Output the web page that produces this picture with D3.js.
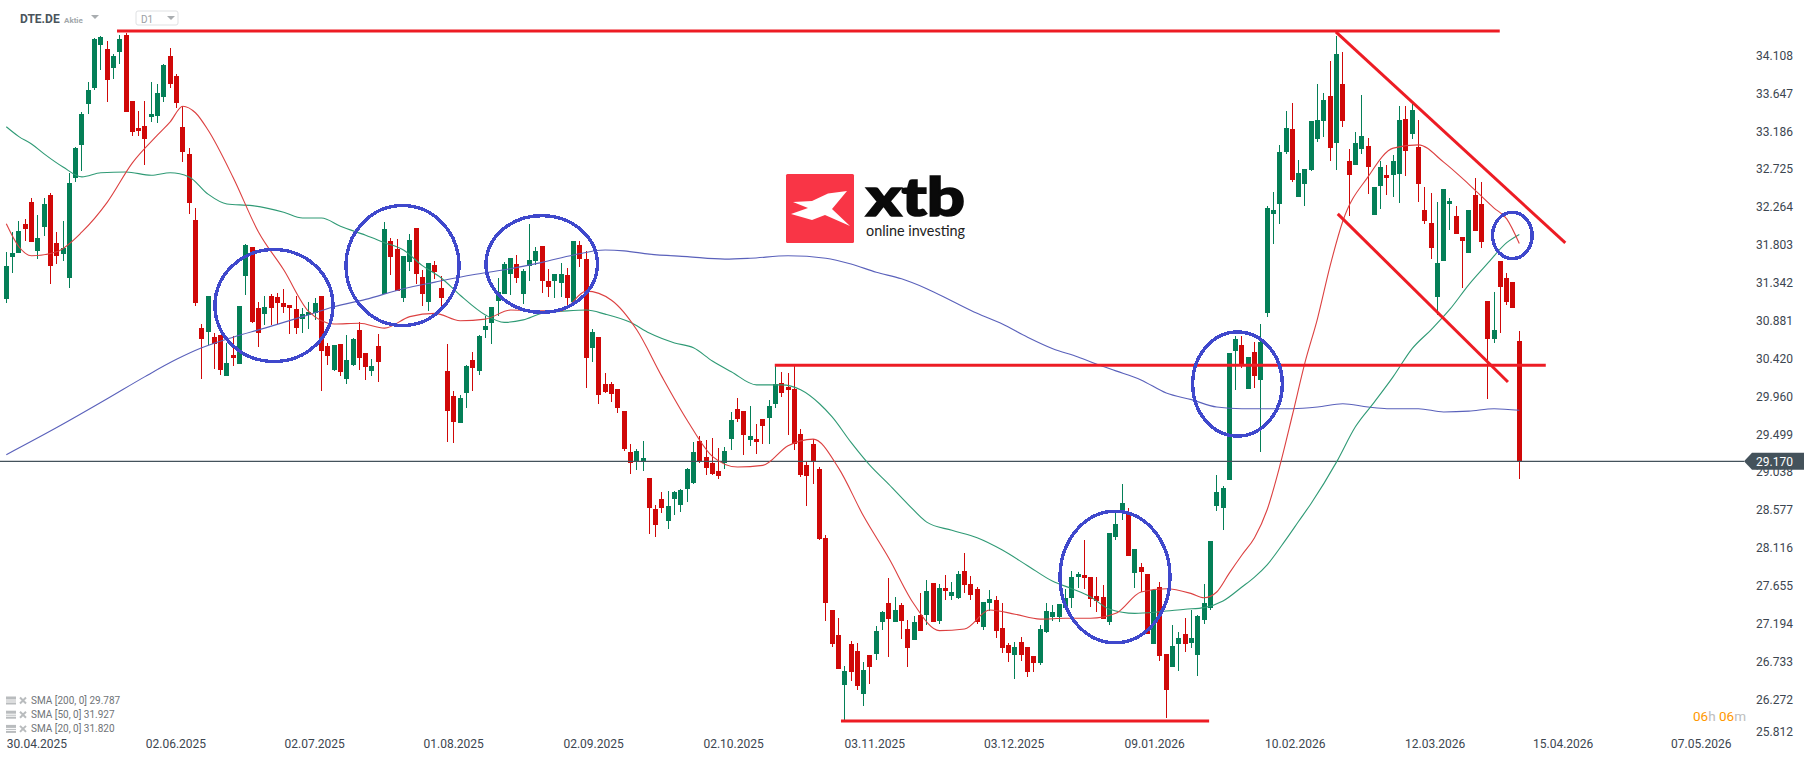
<!DOCTYPE html>
<html>
<head>
<meta charset="utf-8">
<title>DTE.DE</title>
<script src="https://cdn.jsdelivr.net/npm/d3@7"></script>
<style>
  html, body { margin: 0; background: #fff; }
  svg { display: block; font-family: Roboto, sans-serif; }
</style>
</head>
<body>
<div id="chart"></div>
<script>
const opens = [
  31.14,31.66,31.70,32.06,32.32,31.73,32.02,32.41,31.83,31.69,
  31.40,32.62,33.02,33.52,33.71,34.23,34.19,33.95,34.15,34.36,
  33.55,33.22,33.25,33.36,33.37,33.60,34.10,33.86,33.24,32.91,
  32.10,30.79,30.74,30.68,30.71,30.21,30.46,30.35,31.42,31.78,
  31.03,30.96,31.18,31.17,31.10,31.07,31.02,30.90,30.95,30.97,
  31.18,30.57,30.28,30.60,30.17,30.34,30.77,30.49,30.27,30.57,
  31.21,31.85,31.75,31.16,31.59,32.01,31.41,31.11,31.56,31.28,
  30.27,29.96,29.64,30.00,30.40,30.27,30.77,30.85,31.12,31.20,
  31.45,31.57,31.20,31.55,31.61,31.79,31.36,31.36,31.34,31.44,
  31.11,31.80,31.63,30.55,30.68,30.11,30.11,30.05,29.78,29.28,
  29.17,29.16,28.97,28.59,28.71,28.44,28.71,28.64,28.83,28.91,
  29.42,29.22,29.15,29.05,29.15,29.44,29.81,29.78,29.43,29.44,
  29.68,29.70,29.87,30.12,30.07,30.05,29.50,29.13,29.38,29.08,
  28.24,27.36,27.06,26.45,26.95,26.86,26.34,26.81,26.83,27.21,
  27.45,27.21,27.42,27.13,27.00,27.30,27.30,27.69,27.23,27.63,
  27.53,27.51,27.84,27.68,27.62,27.15,27.45,27.48,27.14,26.94,
  26.81,26.97,26.91,26.80,26.71,27.09,27.28,27.28,27.39,27.51,
  27.76,27.79,27.76,27.53,27.52,27.21,28.25,28.57,28.54,27.81,
  27.88,27.80,26.95,27.64,26.83,26.67,26.95,27.07,26.96,26.81,
  27.24,27.39,28.63,28.60,28.94,30.51,30.59,30.05,30.50,30.16,
  30.97,32.18,32.30,32.93,33.21,32.39,32.54,32.71,33.09,33.31,
  33.61,33.04,33.76,32.82,32.78,32.97,33.01,32.17,32.52,32.65,
  32.65,32.67,33.33,33.15,32.99,32.23,32.07,31.17,31.61,32.30,
  32.15,31.90,31.70,32.41,32.30,31.12,30.66,31.61,31.40,31.35,
  30.63
];
const closes = [
  31.54,31.70,31.97,31.99,31.84,31.89,32.30,31.55,31.67,31.77,
  32.56,32.98,33.40,33.69,34.31,34.33,33.81,34.10,34.31,33.42,
  33.18,33.19,33.09,33.40,33.65,33.99,33.76,33.53,32.93,32.31,
  31.10,30.66,31.18,30.60,30.28,30.37,30.43,31.06,31.80,30.87,
  30.73,31.05,31.03,31.10,31.05,31.03,30.79,30.96,30.99,31.10,
  30.51,30.45,30.58,30.26,30.40,30.66,30.43,30.32,30.33,30.38,
  31.99,31.66,31.24,31.67,31.86,31.45,31.20,31.58,31.47,31.16,
  29.78,29.65,29.94,30.33,30.30,30.69,30.82,31.05,31.23,31.57,
  31.64,31.40,31.49,31.62,31.73,31.36,31.29,31.45,31.45,31.16,
  31.85,31.63,30.43,30.74,29.98,30.01,29.99,29.82,29.32,29.15,
  29.30,29.21,28.60,28.40,28.60,28.63,28.80,28.82,29.08,29.28,
  29.16,29.09,29.02,28.99,29.30,29.67,29.68,29.49,29.48,29.40,
  29.60,29.84,30.11,30.00,30.04,29.38,29.00,28.99,29.17,28.22,
  27.45,26.95,26.64,26.62,26.61,26.44,26.63,26.67,27.10,27.34,
  27.25,27.36,27.23,26.90,27.21,27.10,27.59,27.21,27.63,27.59,
  27.58,27.80,27.67,27.54,27.21,27.46,27.50,27.10,26.90,26.84,
  26.91,26.81,26.61,26.71,27.13,27.35,27.34,27.43,27.51,27.76,
  27.80,27.75,27.49,27.47,27.25,28.30,28.41,28.66,28.02,28.10,
  27.82,27.07,27.60,26.80,26.39,26.92,27.02,26.95,27.02,27.29,
  27.45,28.20,28.80,28.85,30.49,30.66,30.34,30.44,30.21,30.62,
  32.25,32.23,32.93,33.22,32.59,32.68,32.73,33.31,33.32,33.57,
  32.98,34.12,33.31,32.65,33.04,33.13,32.75,32.51,32.75,32.62,
  32.82,33.32,32.95,33.44,32.54,32.09,31.77,31.58,32.48,32.34,
  31.94,31.85,32.23,31.97,31.84,30.66,30.77,31.29,31.11,31.04,
  29.17
];
const highs = [
  31.72,31.96,32.09,32.12,32.37,32.17,32.37,32.44,31.96,32.09,
  32.68,32.99,33.42,33.78,34.32,34.34,34.28,34.12,34.36,34.38,
  33.55,33.43,33.55,33.78,33.76,34.00,34.20,33.88,33.49,32.98,
  32.25,30.84,31.18,30.73,30.71,30.61,30.70,31.06,31.81,31.78,
  31.11,31.18,31.21,31.22,31.27,31.07,31.18,31.03,31.11,31.16,
  31.18,30.61,30.58,30.60,30.71,30.67,30.87,30.49,30.41,30.72,
  32.08,31.89,31.87,31.67,31.93,32.01,31.50,31.58,31.61,31.42,
  30.60,30.02,29.98,30.34,30.50,30.71,30.94,31.05,31.40,31.59,
  31.64,31.68,31.51,32.06,31.78,31.79,31.51,31.45,31.58,31.52,
  31.85,31.85,31.73,30.78,30.68,30.24,30.13,30.05,29.78,29.38,
  29.32,29.42,28.97,28.64,28.80,28.81,28.81,28.83,29.09,29.40,
  29.48,29.43,29.45,29.33,29.34,29.77,29.94,29.78,29.84,29.62,
  29.68,29.92,30.34,30.26,30.24,30.34,29.56,29.16,29.44,29.10,
  28.27,27.36,27.26,26.68,26.98,26.96,26.73,26.81,27.17,27.35,
  27.75,27.52,27.45,27.24,27.29,27.57,27.72,27.69,27.68,27.79,
  27.70,27.84,28.05,27.77,27.64,27.46,27.60,27.53,27.45,26.96,
  26.97,27.03,26.91,26.80,27.18,27.45,27.42,27.43,27.62,27.84,
  27.82,28.21,27.76,27.76,27.66,28.30,28.54,28.89,28.60,28.10,
  27.93,27.80,27.60,27.70,26.83,27.18,27.09,27.26,27.36,27.30,
  27.68,28.20,29.00,28.87,30.49,30.69,30.69,30.44,30.62,30.84,
  32.28,32.45,33.02,33.43,33.53,32.84,32.73,33.31,33.76,33.65,
  34.04,34.34,34.15,32.97,33.18,33.63,33.10,32.51,32.82,32.78,
  32.90,33.49,33.49,33.52,33.32,32.51,32.43,32.33,32.48,32.37,
  32.28,31.90,32.23,32.62,32.57,31.12,31.23,31.61,31.46,31.35,
  30.76
];
const lows = [
  31.10,31.46,31.70,31.85,31.84,31.63,31.91,31.33,31.57,31.61,
  31.28,32.57,32.70,33.40,33.69,33.93,33.54,33.82,34.00,33.42,
  33.13,33.13,32.77,33.30,33.29,33.54,33.71,33.47,32.81,32.18,
  31.06,30.17,30.58,30.29,30.22,30.21,30.33,30.35,31.19,30.85,
  30.56,30.83,30.83,30.84,30.97,30.72,30.72,30.73,30.78,30.89,
  30.03,30.34,30.27,30.21,30.11,30.33,30.28,30.16,30.21,30.13,
  31.21,31.44,31.24,31.11,31.48,31.33,31.06,31.00,31.39,31.05,
  29.40,29.39,29.64,29.82,30.03,30.22,30.67,30.60,30.94,31.20,
  31.19,31.34,31.08,31.36,31.56,31.22,31.17,31.16,31.17,31.06,
  31.06,31.53,30.06,30.38,29.87,30.00,29.89,29.76,29.30,29.02,
  29.06,29.05,28.29,28.25,28.54,28.35,28.52,28.55,28.68,28.89,
  29.15,29.00,29.00,28.96,29.08,29.31,29.65,29.25,29.36,29.26,
  29.38,29.38,29.82,29.95,29.49,29.31,28.98,28.63,28.89,28.21,
  27.23,26.91,26.64,26.02,26.50,26.39,26.19,26.46,26.75,27.12,
  26.79,27.21,27.01,26.67,27.00,27.10,27.18,27.21,27.19,27.48,
  27.48,27.49,27.57,27.48,27.19,27.12,27.35,27.02,26.84,26.73,
  26.52,26.74,26.55,26.61,26.69,27.08,27.23,27.21,27.39,27.39,
  27.63,27.62,27.40,27.34,27.25,27.18,28.21,28.46,28.02,27.63,
  27.58,27.07,26.95,26.74,26.05,26.67,26.62,26.85,26.90,26.56,
  27.19,27.36,28.57,28.33,28.94,30.04,30.31,30.05,30.06,29.28,
  30.93,31.81,32.06,32.91,32.57,32.39,32.28,32.70,33.05,33.12,
  32.82,32.71,33.24,32.15,32.78,32.91,32.42,32.17,32.24,32.41,
  32.39,32.31,32.64,33.09,32.33,32.06,31.63,30.95,31.61,31.98,
  31.94,31.28,31.70,31.97,31.77,29.93,30.61,30.73,31.07,31.04,
  28.95
];

const sma20Bars = [0,2,4,8,12,16,20,24,26,28,30,32,36,40,44,48,52,56,60,64,68,72,76,80,84,88,92,96,100,104,108,112,116,120,124,128,132,136,140,144,148,152,156,160,164,168,172,176,180,184,188,190,192,194,196,198,200,202,204,206,208,210,212,216,220,224,228,232,236,238,240];
const sma20 = [32.06,31.78,31.67,31.72,31.96,32.32,32.80,33.14,33.30,33.49,33.41,33.20,32.62,31.96,31.50,30.99,30.84,30.85,30.79,30.93,30.97,30.88,30.90,31.01,31.00,31.00,31.24,31.13,30.77,30.20,29.67,29.23,29.10,29.12,29.36,29.44,29.09,28.50,27.99,27.43,27.11,27.13,27.36,27.31,27.25,27.26,27.26,27.32,27.58,27.62,27.56,27.51,27.58,27.81,28.03,28.24,28.58,29.11,29.73,30.37,30.91,31.55,32.09,32.63,32.98,33.02,32.81,32.54,32.25,32.12,31.82];
const sma50Bars = [0,2,4,6,9,12,15,19,23,26,29,32,35,39,44,47,50,53,57,60,63,66,69,72,76,79,82,85,89,92,95,99,102,106,109,112,115,119,123,126,129,131,134,137,140,143,146,150,154,158,162,166,169,172,175,179,183,187,190,193,196,198,200,203,205,207,211,214,217,220,223,226,229,232,235,238,240];
const sma50 = [33.24,33.12,33.03,32.91,32.75,32.63,32.68,32.69,32.65,32.68,32.63,32.42,32.30,32.28,32.20,32.13,32.13,32.03,31.92,31.83,31.74,31.55,31.40,31.19,30.95,30.86,30.89,30.97,31.00,31.01,30.96,30.86,30.73,30.61,30.55,30.39,30.26,30.10,30.10,30.04,29.87,29.71,29.40,29.12,28.89,28.65,28.43,28.33,28.24,28.09,27.90,27.71,27.62,27.52,27.37,27.32,27.34,27.37,27.39,27.47,27.64,27.76,27.91,28.22,28.44,28.66,29.16,29.59,29.89,30.20,30.54,30.77,31.02,31.32,31.58,31.83,31.93];
const sma200Bars = [0,8,16,22,27,31,36,41,47,52,57,63,68,74,79,85,90,95,98,102,108,114,118,124,130,134,138,142,146,150,154,158,162,166,170,173,176,180,184,188,192,196,200,204,208,212,216,219,224,228,232,236,240];
const sma200 = [29.25,29.58,29.93,30.20,30.41,30.55,30.68,30.79,30.93,31.05,31.14,31.27,31.35,31.44,31.50,31.59,31.68,31.74,31.73,31.69,31.66,31.63,31.64,31.67,31.64,31.57,31.47,31.39,31.27,31.12,30.97,30.84,30.68,30.54,30.44,30.35,30.27,30.16,30.00,29.92,29.83,29.81,29.81,29.81,29.83,29.87,29.83,29.81,29.81,29.77,29.78,29.81,29.79];

const lastPrice = 29.17;
const priceTicks = [34.108,33.647,33.186,32.725,32.264,31.803,31.342,30.881,30.420,29.960,29.499,29.038,28.577,28.116,27.655,27.194,26.733,26.272,25.812];
const dateBars = [0,22.05,44.05,66.1,88.3,110.5,132.9,155,177.3,199.6,221.8,242.1,264];
const dateLabels = ["30.04.2025","02.06.2025","02.07.2025","01.08.2025","02.09.2025","02.10.2025","03.11.2025","03.12.2025","09.01.2026","10.02.2026","12.03.2026","15.04.2026","07.05.2026"];
const legendRows = ["SMA [200, 0] 29.787","SMA [50, 0] 31.927","SMA [20, 0] 31.820"];

// drawn levels and trend lines, in [bar, price, bar, price]
const drawnLines = [
  [17.56,34.405,236.9,34.405],
  [121.9,30.338,244.2,30.338],
  [132.4,26.011,190.8,26.011],
  [210.9,34.393,247.3,31.826],
  [211.2,32.18,238.2,30.135]
];
// drawn circles, centre [bar, price] and radii [bars, price]
const drawnCircles = [
  [42.46,31.065,9.36,0.681],
  [62.85,31.552,8.96,0.730],
  [84.93,31.57,8.84,0.588],
  [175.87,27.762,8.72,0.800],
  [195.3,30.11,7.11,0.633],
  [238.9,31.917,3.14,0.282]
];

const width = 1816, height = 761;
const upColor = "#047f57", downColor = "#d00808", textColor = "#3c4650", tagColor = "#44525b";

const svg = d3.select("#chart").append("svg")
  .attr("width", width)
  .attr("height", height);

const x = d3.scaleLinear().domain([0, 240]).range([6.3, 1519.3]);
const y = d3.scaleLinear().domain([25.812, 34.108]).range([737.3, 55.4]);

const candles = opens.map((o, i) => ({ i, o, c: closes[i], h: highs[i], l: lows[i] }));
const center = d => Math.floor(x(d.i)) + 0.5;
const candleColor = d => d.c >= d.o ? upColor : downColor;

// Candles
const gCandles = svg.append("g").attr("shape-rendering", "crispEdges");
gCandles.selectAll(".wick").data(candles).enter().append("rect")
  .attr("class", "wick")
  .attr("x", d => center(d) - 0.5)
  .attr("width", 1)
  .attr("y", d => y(d.h))
  .attr("height", d => y(d.l) - y(d.h))
  .attr("fill", candleColor);
gCandles.selectAll(".body").data(candles).enter().append("rect")
  .attr("class", "body")
  .attr("x", d => center(d) - 2.5)
  .attr("width", 5)
  .attr("y", d => y(Math.max(d.o, d.c)))
  .attr("height", d => Math.max(1, Math.abs(y(d.o) - y(d.c))))
  .attr("fill", candleColor);

// Last price line
svg.append("line")
  .attr("x1", 0).attr("x2", 1744)
  .attr("y1", y(lastPrice)).attr("y2", y(lastPrice))
  .attr("stroke", tagColor)
  .attr("stroke-width", 1.2);

// SMAs
const smaLine = d3.line().x(d => x(d[0])).y(d => y(d[1])).curve(d3.curveMonotoneX);
[[sma200Bars, sma200, "#5a61bb"], [sma50Bars, sma50, "#2f9a75"], [sma20Bars, sma20, "#dc4040"]].forEach(([bars, vals, color]) => {
  svg.append("path")
    .datum(bars.map((b, i) => [b, vals[i]]))
    .attr("d", smaLine)
    .attr("fill", "none")
    .attr("stroke", color)
    .attr("stroke-width", 1.1);
});

// Price axis
const yAxis = d3.axisRight(y).tickValues(priceTicks).tickSize(0).tickPadding(0).tickFormat(d3.format(".3f"));
const gY = svg.append("g").attr("transform", "translate(1756,0)").call(yAxis);
gY.select(".domain").remove();
gY.selectAll("text").attr("font-family", "Roboto").attr("font-size", 12).attr("fill", textColor);
gY.selectAll(".tick").filter(d => d === 25.812).select("text").attr("y", -5.5);

// Date axis
const xAxis = d3.axisBottom(x).tickValues(dateBars).tickSize(0).tickPadding(0).tickFormat((d, i) => dateLabels[i]);
const gX = svg.append("g").attr("transform", "translate(0,739)").call(xAxis);
gX.select(".domain").remove();
gX.selectAll("text")
  .attr("text-anchor", "start")
  .attr("font-family", "Roboto").attr("font-size", 12).attr("fill", textColor);

// Drawn lines and circles
svg.append("g").selectAll("line").data(drawnLines).enter().append("line")
  .attr("x1", d => x(d[0])).attr("y1", d => y(d[1]))
  .attr("x2", d => x(d[2])).attr("y2", d => y(d[3]))
  .attr("stroke", "#ed1c24")
  .attr("stroke-width", 3);
const pitch = x(1) - x(0);
svg.append("g").attr("shape-rendering", "crispEdges")
  .selectAll("ellipse").data(drawnCircles).enter().append("ellipse")
  .attr("cx", d => x(d[0])).attr("cy", d => y(d[1]))
  .attr("rx", d => d[2] * pitch)
  .attr("ry", d => y(d[1] - d[3]) - y(d[1]))
  .attr("fill", "none")
  .attr("stroke", "#3f48cc")
  .attr("stroke-width", 3.4);

// Price tag
const tagY = y(lastPrice);
svg.append("path")
  .attr("d", `M1744,${tagY}L1752,${tagY - 8.5}H1804V${tagY + 8.5}H1752Z`)
  .attr("fill", tagColor);
svg.append("text")
  .attr("x", 1756).attr("y", tagY + 1).attr("dy", "0.35em")
  .attr("font-size", 12).attr("fill", "#fff")
  .text(d3.format(".3f")(lastPrice));

// Header
svg.append("text").attr("x", 20).attr("y", 23)
  .attr("font-size", 12).attr("font-weight", 700).attr("fill", "#4a545c").text("DTE.DE");
svg.append("text").attr("x", 64).attr("y", 22.5)
  .attr("font-size", 8).attr("font-weight", 700).attr("fill", "#a3a8ac").text("Aktie");
svg.append("path").attr("d", "M91,15H99L95,19Z").attr("fill", "#a9adb0");
svg.append("rect").attr("x", 136).attr("y", 11).attr("width", 42).attr("height", 14)
  .attr("rx", 2).attr("fill", "#fff").attr("stroke", "#dfe1e3");
svg.append("text").attr("x", 141).attr("y", 23)
  .attr("font-size", 10).attr("fill", "#9ba0a4").text("D1");
svg.append("path").attr("d", "M167,16H175L171,20Z").attr("fill", "#a9adb0");

// Legend
legendRows.forEach((t, i) => {
  const ly = 700.5 + i * 14.2;
  const g = svg.append("g").attr("transform", `translate(0,${ly})`);
  g.append("rect").attr("x", 6).attr("y", -4).attr("width", 10).attr("height", 3).attr("fill", "#b9bcbe");
  g.append("rect").attr("x", 6).attr("y", 0).attr("width", 10).attr("height", 1).attr("fill", "#b9bcbe");
  g.append("rect").attr("x", 6).attr("y", 2).attr("width", 10).attr("height", 2).attr("fill", "#b9bcbe");
  g.append("path").attr("d", "M20,-3L26,3M26,-3L20,3").attr("stroke", "#b9bcbe").attr("stroke-width", 2);
  g.append("text").attr("x", 31).attr("y", 3.5)
    .attr("font-size", 10).attr("fill", "#6f7478").text(t);
});

// Countdown
const countdown = svg.append("text").attr("x", 1693).attr("y", 721).attr("font-size", 13.5);
[["06", "#ff9800"], ["h ", "#bdbdbd"], ["06", "#ff9800"], ["m", "#bdbdbd"]].forEach(([s, c]) => {
  countdown.append("tspan").attr("fill", c).text(s);
});

// Logo
const logo = svg.append("g");
logo.append("rect").attr("x", 786).attr("y", 174).attr("width", 68).attr("height", 69).attr("rx", 1.5).attr("fill", "#f93546");
logo.append("path")
  .attr("d", "M847,191L828,193.5L812,201L793,202L808,208L791,214L812,220L825,215L850,226L832,209Z")
  .attr("fill", "#fff");
logo.append("text").attr("x", 866).attr("y", 216)
  .attr("font-family", "Lato").attr("font-weight", 900).attr("font-size", 54)
  .attr("textLength", 99).attr("lengthAdjust", "spacingAndGlyphs")
  .attr("fill", "#0a0a0a").attr("stroke", "#0a0a0a").attr("stroke-width", 1.6).text("xtb");
logo.append("text").attr("x", 866).attr("y", 236)
  .attr("font-family", "Lato").attr("font-size", 15.5)
  .attr("textLength", 99).attr("lengthAdjust", "spacingAndGlyphs")
  .attr("fill", "#222").text("online investing");
</script>
</body>
</html>
